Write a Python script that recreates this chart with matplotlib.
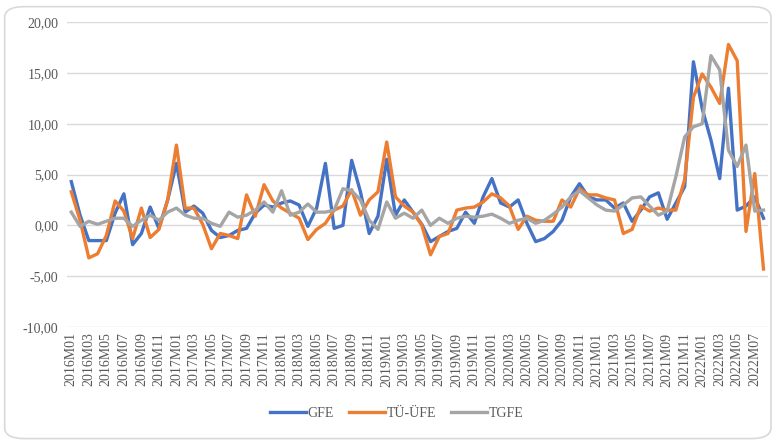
import matplotlib.pyplot as plt
from matplotlib.patches import FancyBboxPatch

# monthly periods 2016M01 .. 2022M08
periods = [f"{y}M{m:02d}" for y in range(2016, 2023) for m in range(1, 13)][:80]

gfe = [4.3, 1.0, -1.5, -1.5, -1.5, 1.2, 3.1, -1.9, -0.8, 1.8,
       -0.3, 2.5, 6.1, 1.3, 1.9, 1.2, -0.5, -1.2, -1.0, -0.5,
       -0.3, 1.2, 2.0, 1.8, 2.2, 2.4, 2.0, -0.1, 1.7, 6.1,
       -0.3, 0.0, 6.4, 3.3, -0.8, 0.9, 6.5, 1.0, 2.5, 1.3,
       0.1, -1.6, -1.1, -0.6, -0.3, 1.3, 0.2, 2.8, 4.6, 2.2,
       1.8, 2.5, 0.2, -1.6, -1.3, -0.6, 0.5, 2.8, 4.1, 2.8,
       2.5, 2.5, 1.7, 2.2, 0.4, 1.5, 2.8, 3.2, 0.6, 2.2,
       3.8, 16.1, 11.5, 8.4, 4.6, 13.5, 1.5, 1.9, 2.8, 0.7]

tu_ufe = [3.3, 0.5, -3.2, -2.8, -1.0, 2.4, 1.4, -1.3, 1.7, -1.2,
          -0.4, 2.5, 7.9, 1.7, 1.7, 0.1, -2.3, -0.8, -1.0, -1.3,
          3.0, 0.9, 4.0, 2.4, 1.7, 1.2, 0.7, -1.4, -0.4, 0.2,
          1.5, 1.9, 3.5, 1.0, 2.5, 3.3, 8.2, 2.8, 1.9, 1.3,
          0.0, -2.9, -1.1, -0.8, 1.5, 1.7, 1.8, 2.3, 3.1, 2.7,
          1.9, -0.4, 0.9, 0.5, 0.4, 0.4, 2.5, 1.8, 3.6, 3.0,
          3.0, 2.7, 2.5, -0.8, -0.4, 1.9, 1.4, 1.7, 1.5, 1.5,
          4.5, 12.6, 14.9, 13.6, 12.0, 17.8, 16.2, -0.6, 5.1, -4.3]

tgfe = [1.3, -0.1, 0.4, 0.1, 0.4, 0.7, 0.7, -0.1, 0.5, 1.0,
        0.5, 1.3, 1.7, 1.0, 0.7, 0.7, 0.2, -0.1, 1.3, 0.8,
        1.0, 1.5, 2.3, 1.3, 3.4, 1.0, 1.3, 2.1, 1.3, 1.3,
        1.5, 3.6, 3.4, 2.5, 0.5, -0.4, 2.3, 0.7, 1.2, 0.7,
        1.5, 0.0, 0.7, 0.2, 0.7, 0.9, 0.8, 0.9, 1.1, 0.7,
        0.2, 0.5, 0.7, 0.2, 0.5, 1.1, 1.8, 2.8, 3.4, 2.7,
        2.0, 1.5, 1.4, 2.0, 2.7, 2.8, 1.9, 1.0, 1.4, 4.8,
        8.7, 9.7, 10.0, 16.7, 15.3, 7.4, 5.8, 7.9, 1.4, 1.5]

series = [("GFE", gfe, "#4472C4"), ("TÜ-ÜFE", tu_ufe, "#ED7D31"), ("TGFE", tgfe, "#A5A5A5")]

fig = plt.figure(figsize=(7.78, 4.43), dpi=100)
ax = fig.add_axes([0.086, 0.262, 0.901, 0.688])

x = list(range(len(periods)))
for name, vals, color in series:
    ax.plot(x, vals, color=color, lw=2.4, label=name)

ax.set_xlim(-0.5, len(periods) - 0.5)
ax.set_ylim(-10, 20)
ax.set_yticks(range(-10, 21, 5))
ax.set_yticklabels([f"{v:.2f}".replace(".", ",") for v in range(-10, 21, 5)],
                   family="Liberation Serif", fontsize=10, color="#595959")
ax.set_xticks(x[::2])
ax.set_xticklabels(periods[::2], rotation=90, family="Liberation Serif",
                   fontsize=10, color="#595959")
ax.tick_params(length=0, pad=6)
ax.tick_params(axis="x", pad=4)
ax.grid(axis="y", color="#D9D9D9", lw=1)
ax.set_axisbelow(True)
for s in ax.spines.values():
    s.set_visible(False)

fig.legend(loc="center", bbox_to_anchor=(0.51, 0.067), ncol=3, frameon=False,
           prop={"family": "Liberation Serif", "size": 10}, handlelength=2.6,
           columnspacing=1.1, handletextpad=0.1, labelcolor="#595959")

fig.patches.append(FancyBboxPatch((0.006, 0.01), 0.985, 0.975,
                                  boxstyle="round,pad=0,rounding_size=0.025",
                                  transform=fig.transFigure, fill=False,
                                  edgecolor="#D9D9D9", lw=1.2))

fig.savefig("out.png", dpi=100)
